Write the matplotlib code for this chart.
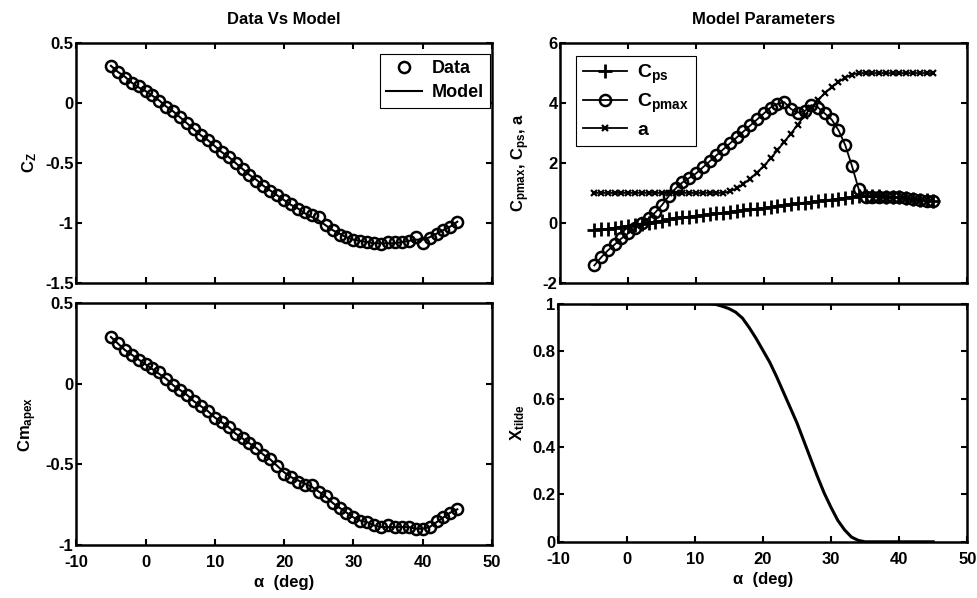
import matplotlib
matplotlib.use("Agg")
import matplotlib.pyplot as plt
from matplotlib.ticker import FormatStrFormatter

plt.rcParams['font.family'] = ['Liberation Sans', 'DejaVu Sans']
plt.rcParams['font.weight'] = 'bold'
plt.rcParams['font.size'] = 12
plt.rcParams['axes.unicode_minus'] = False
plt.rcParams['mathtext.fontset'] = 'custom'
plt.rcParams['mathtext.rm'] = 'Liberation Sans:bold'
plt.rcParams['mathtext.bf'] = 'Liberation Sans:bold'
plt.rcParams['mathtext.it'] = 'Liberation Sans:bold'

# angle of attack, deg
alpha = list(range(-5, 46))

cz_data = [0.31, 0.26, 0.21, 0.17, 0.14, 0.10, 0.07, 0.02, -0.03, -0.07,
           -0.12, -0.17, -0.22, -0.27, -0.31, -0.36, -0.41, -0.45, -0.50, -0.55,
           -0.60, -0.65, -0.69, -0.73, -0.77, -0.81, -0.84, -0.88, -0.91, -0.93,
           -0.95, -1.02, -1.06, -1.10, -1.12, -1.14, -1.15, -1.16, -1.17, -1.18,
           -1.16, -1.16, -1.16, -1.15, -1.12, -1.17, -1.13, -1.09, -1.06, -1.03,
           -0.99]
cz_model = [0.31, 0.26, 0.22, 0.17, 0.13, 0.10, 0.06, 0.02, -0.03, -0.07,
            -0.12, -0.17, -0.22, -0.27, -0.31, -0.36, -0.41, -0.45, -0.50, -0.55,
            -0.60, -0.64, -0.69, -0.73, -0.77, -0.81, -0.85, -0.88, -0.92, -0.95,
            -0.98, -1.02, -1.06, -1.09, -1.12, -1.14, -1.15, -1.16, -1.17, -1.17,
            -1.17, -1.17, -1.16, -1.15, -1.14, -1.14, -1.12, -1.09, -1.06, -1.03,
            -0.99]

cm_data = [0.29, 0.25, 0.21, 0.18, 0.15, 0.12, 0.10, 0.07, 0.03, -0.01,
           -0.04, -0.07, -0.11, -0.14, -0.17, -0.21, -0.24, -0.27, -0.31, -0.34,
           -0.37, -0.40, -0.44, -0.47, -0.51, -0.56, -0.58, -0.61, -0.63, -0.63,
           -0.67, -0.70, -0.74, -0.77, -0.80, -0.83, -0.85, -0.86, -0.88, -0.89,
           -0.88, -0.89, -0.89, -0.89, -0.90, -0.90, -0.89, -0.85, -0.83, -0.80,
           -0.78]
cm_model = [0.29, 0.25, 0.21, 0.18, 0.15, 0.12, 0.09, 0.06, 0.03, -0.01,
            -0.04, -0.07, -0.11, -0.14, -0.17, -0.21, -0.24, -0.27, -0.31, -0.34,
            -0.37, -0.40, -0.44, -0.47, -0.51, -0.55, -0.58, -0.60, -0.62, -0.64,
            -0.67, -0.70, -0.74, -0.77, -0.80, -0.83, -0.85, -0.86, -0.88, -0.89,
            -0.89, -0.89, -0.89, -0.89, -0.90, -0.90, -0.89, -0.86, -0.83, -0.80,
            -0.78]

cps = [-0.25, -0.22, -0.19, -0.16, -0.12, -0.09, -0.06, -0.03, 0.00, 0.04,
       0.08, 0.13, 0.16, 0.19, 0.21, 0.24, 0.26, 0.29, 0.32, 0.34,
       0.37, 0.40, 0.42, 0.45, 0.48, 0.50, 0.53, 0.56, 0.60, 0.62,
       0.65, 0.68, 0.70, 0.73, 0.76, 0.78, 0.81, 0.84, 0.87, 0.89,
       0.90, 0.90, 0.89, 0.88, 0.87, 0.86, 0.84, 0.81, 0.78, 0.75,
       0.74]
cpmax = [-1.42, -1.15, -0.92, -0.72, -0.52, -0.35, -0.18, 0.00, 0.15, 0.35,
         0.60, 0.90, 1.15, 1.35, 1.50, 1.65, 1.85, 2.05, 2.25, 2.45,
         2.65, 2.85, 3.05, 3.25, 3.45, 3.65, 3.85, 3.97, 4.03, 3.80,
         3.68, 3.72, 3.93, 3.85, 3.65, 3.45, 3.10, 2.60, 1.90, 1.12,
         0.88, 0.88, 0.87, 0.87, 0.86, 0.86, 0.84, 0.80, 0.76, 0.73,
         0.74]
a_par = [1.0, 1.0, 1.0, 1.0, 1.0, 1.0, 1.0, 1.0, 1.0, 1.0,
         1.0, 1.0, 1.0, 1.0, 1.0, 1.0, 1.0, 1.0, 1.0, 1.0,
         1.05, 1.15, 1.30, 1.48, 1.68, 1.90, 2.15, 2.42, 2.70, 2.98,
         3.28, 3.58, 3.85, 4.10, 4.33, 4.53, 4.70, 4.85, 4.95, 5.0,
         5.0, 5.0, 5.0, 5.0, 5.0, 5.0, 5.0, 5.0, 5.0, 5.0,
         5.0]
x_tilde = [1.0, 1.0, 1.0, 1.0, 1.0, 1.0, 1.0, 1.0, 1.0, 1.0,
           1.0, 1.0, 1.0, 1.0, 1.0, 1.0, 1.0, 1.0, 0.998, 0.99,
           0.98, 0.965, 0.94, 0.90, 0.855, 0.805, 0.755, 0.695, 0.63, 0.565,
           0.50, 0.425, 0.35, 0.275, 0.205, 0.145, 0.09, 0.05, 0.02, 0.006,
           0.0, 0.0, 0.0, 0.0, 0.0, 0.0, 0.0, 0.0, 0.0, 0.0,
           0.0]

xticks = [-10, 0, 10, 20, 30, 40, 50]

fig = plt.figure(figsize=(9.78, 5.98), dpi=100)
ax1 = fig.add_axes([0.078, 0.527, 0.425, 0.401])
ax2 = fig.add_axes([0.573, 0.527, 0.416, 0.401])
ax3 = fig.add_axes([0.078, 0.089, 0.425, 0.404])
ax4 = fig.add_axes([0.571, 0.094, 0.418, 0.398])


def style(ax, labels=True):
    ax.set_xlim(-10, 50)
    ax.set_xticks(xticks)
    ax.tick_params(direction='in', top=True, right=True, length=4, width=1.5,
                   labelsize=12, pad=2)
    ax.tick_params(axis='x', pad=7)
    for s in ax.spines.values():
        s.set_linewidth(1.8)
    if not labels:
        ax.set_xticklabels([])
    else:
        ax.set_xlabel('α  (deg)', fontsize=12, fontweight='bold', labelpad=4)
    ax.yaxis.set_major_formatter(FormatStrFormatter('%g'))
    for lab in ax.get_xticklabels() + ax.get_yticklabels():
        lab.set_fontweight('bold')


# Data vs Model, C_Z
ax1.plot(alpha, cz_data, 'o', mfc='none', mec='black', ms=8, mew=1.8, label='Data')
ax1.plot(alpha, cz_model, '-', color='black', lw=1.5, label='Model')
ax1.set_ylim(-1.5, 0.5)
ax1.set_yticks([-1.5, -1, -0.5, 0, 0.5])
style(ax1, labels=False)
ax1.set_ylabel(r'C$_\mathbf{Z}$', fontsize=12, fontweight='bold', labelpad=4)
ax1.set_title('Data Vs Model', fontsize=12, fontweight='bold', pad=14)
leg = ax1.legend(loc='upper right', bbox_to_anchor=(0.995, 0.955),
                 fancybox=False, edgecolor='black',
                 framealpha=1, borderaxespad=0.0, handlelength=2.0,
                 borderpad=0.35, labelspacing=0.4, handletextpad=0.5,
                 prop={'weight': 'bold', 'size': 13})
leg.get_frame().set_linewidth(0.8)

# model parameters
ax2.plot(alpha, cps, '-', color='black', lw=1.3, marker='+', ms=10, mew=2,
         label=r'C$_\mathbf{ps}$')
ax2.plot(alpha, cpmax, '-', color='black', lw=1.3, marker='o', mfc='none',
         ms=8, mew=1.8, label=r'C$_\mathbf{pmax}$')
ax2.plot(alpha, a_par, '-', color='black', lw=1.3, marker='x', ms=4.5, mew=1.6,
         label='a')
ax2.set_ylim(-2, 6)
ax2.set_yticks([-2, 0, 2, 4, 6])
style(ax2, labels=False)
ax2.set_ylabel(r'C$_\mathbf{pmax}$, C$_\mathbf{ps}$, a', fontsize=12,
               fontweight='bold', labelpad=8)
ax2.set_title('Model Parameters', fontsize=12, fontweight='bold', pad=14)
leg2 = ax2.legend(loc='upper left', bbox_to_anchor=(0.038, 0.945),
                  fancybox=False, edgecolor='black',
                  framealpha=1, borderaxespad=0.0, handlelength=2.3,
                  borderpad=0.35, labelspacing=0.3, handletextpad=0.5,
                  prop={'weight': 'bold', 'size': 14})
leg2.get_frame().set_linewidth(0.8)

# Cm apex
ax3.plot(alpha, cm_data, 'o', mfc='none', mec='black', ms=8, mew=1.8)
ax3.plot(alpha, cm_model, '-', color='black', lw=1.5)
ax3.set_ylim(-1, 0.5)
ax3.set_yticks([-1, -0.5, 0, 0.5])
style(ax3)
ax3.set_ylabel(r'Cm$_\mathbf{apex}$', fontsize=12, fontweight='bold', labelpad=4)

# X tilde
ax4.plot(alpha, x_tilde, '-', color='black', lw=2.2)
ax4.set_ylim(0, 1)
ax4.set_yticks([0, 0.2, 0.4, 0.6, 0.8, 1])
style(ax4)
ax4.set_ylabel(r'X$_\mathbf{tilde}$', fontsize=12, fontweight='bold', labelpad=4)

plt.savefig('out.png', dpi=100)
